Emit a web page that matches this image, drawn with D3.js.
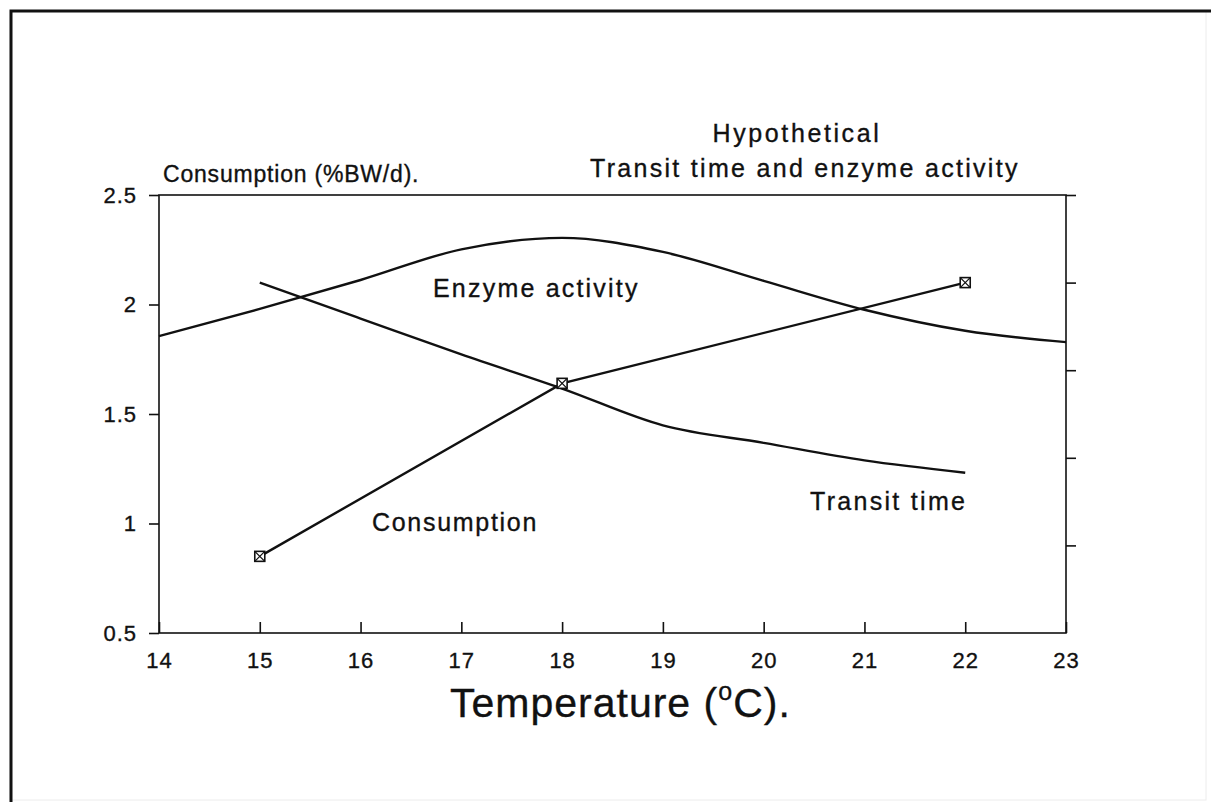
<!DOCTYPE html>
<html>
<head>
<meta charset="utf-8">
<script src="https://cdn.jsdelivr.net/npm/d3@7"></script>
<style>
  body { margin: 0; background: #fff; }
  text { font-family: "Liberation Sans", Arial, sans-serif; fill: #111; stroke: #111; stroke-width: 0.35px; }
</style>
</head>
<body>
<svg width="1211" height="802"></svg>
<script>
// measured consumption (left axis, %BW/d)
var consumptionTemp = [15, 18, 22];
var consumptionValues = [0.85, 1.64, 2.10];

// hypothetical curves (right axis, unlabelled units 0-5)
var enzymeTemp = [14, 15, 16, 17, 18, 19, 20, 21, 22, 23];
var enzymeValues = [3.39, 3.70, 4.03, 4.38, 4.51, 4.35, 4.02, 3.69, 3.45, 3.32];
var transitTemp = [15, 16, 17, 18, 19, 20, 21, 22];
var transitValues = [4.00, 3.59, 3.18, 2.79, 2.37, 2.17, 1.97, 1.83];

var xTicks = [14, 15, 16, 17, 18, 19, 20, 21, 22, 23];
var yTicks = [0.5, 1, 1.5, 2, 2.5];
var yTickLabels = ['0.5', '1', '1.5', '2', '2.5'];
var rightTicks = [1, 2, 3, 4, 5];

var svg = d3.select('svg');

// outer frame
svg.append('rect')
  .attr('x', 10).attr('y', 11).attr('width', 1196).attr('height', 789)
  .attr('fill', 'none').attr('stroke', '#ececec').attr('stroke-width', 1);
svg.append('path')
  .attr('d', 'M11,802V11H1211')
  .attr('fill', 'none').attr('stroke', '#111').attr('stroke-width', 3);

var x = d3.scaleLinear().domain([14, 23]).range([159, 1066]);
var y = d3.scaleLinear().domain([0.5, 2.5]).range([633, 195]);
var yR = d3.scaleLinear().domain([0, 5]).range([633, 195]);

var g = svg.append('g');

// plot box
g.append('rect')
  .attr('x', x(14)).attr('y', y(2.5))
  .attr('width', x(23) - x(14)).attr('height', y(0.5) - y(2.5))
  .attr('fill', 'none').attr('stroke', '#111').attr('stroke-width', 1.6);

var leftAxis = d3.axisLeft(y).tickValues(yTicks)
  .tickFormat(function (d, i) { return yTickLabels[i]; })
  .tickSize(10).tickSizeOuter(0).tickPadding(12);
var bottomAxis = d3.axisBottom(x).tickValues(xTicks)
  .tickSize(-11).tickSizeOuter(0).tickPadding(19);
var rightAxis = d3.axisRight(yR).tickValues(rightTicks)
  .tickFormat('').tickSize(10).tickSizeOuter(0);

function styleAxis(sel) {
  sel.attr('font-size', null).attr('font-family', null);
  sel.select('.domain').remove();
  sel.selectAll('line').attr('stroke', '#111').attr('stroke-width', 1.6);
  sel.selectAll('text').attr('fill', '#111')
    .style('font-size', '22px').style('letter-spacing', '1px');
}

g.append('g').attr('transform', 'translate(' + x(14) + ',0)').call(leftAxis).call(styleAxis);
g.append('g').attr('transform', 'translate(0,' + y(0.5) + ')').call(bottomAxis).call(styleAxis);
g.append('g').attr('transform', 'translate(' + x(23) + ',0)').call(rightAxis).call(styleAxis);

// curves
var lineR = d3.line()
  .x(function (d) { return x(d[0]); })
  .y(function (d) { return yR(d[1]); })
  .curve(d3.curveMonotoneX);
var lineL = d3.line()
  .x(function (d) { return x(d[0]); })
  .y(function (d) { return y(d[1]); });

var enzyme = d3.zip(enzymeTemp, enzymeValues);
var transit = d3.zip(transitTemp, transitValues);
var consumption = d3.zip(consumptionTemp, consumptionValues);

g.append('path').datum(enzyme).attr('d', lineR)
  .attr('fill', 'none').attr('stroke', '#111').attr('stroke-width', 2.4);
g.append('path').datum(transit).attr('d', lineR)
  .attr('fill', 'none').attr('stroke', '#111').attr('stroke-width', 2.4);
g.append('path').datum(consumption).attr('d', lineL)
  .attr('fill', 'none').attr('stroke', '#111').attr('stroke-width', 2.4);

// crossed-box markers
var m = g.selectAll('.marker').data(consumption).enter().append('g')
  .attr('class', 'marker')
  .attr('transform', function (d) { return 'translate(' + x(d[0]) + ',' + y(d[1]) + ')'; });
m.append('rect').attr('x', -5).attr('y', -5).attr('width', 10).attr('height', 10)
  .attr('fill', '#fff').attr('stroke', '#111').attr('stroke-width', 1.6);
m.append('path').attr('d', 'M-5,-5L5,5M-5,5L5,-5')
  .attr('stroke', '#111').attr('stroke-width', 1.3);

// labels
function label(txt, px, py, size, spacing, anchor) {
  return svg.append('text').attr('x', px).attr('y', py)
    .style('font-size', size + 'px').style('letter-spacing', spacing + 'px')
    .attr('text-anchor', anchor || 'start').text(txt);
}
label('Consumption (%BW/d).', 163, 182, 23, 0.8);
label('Hypothetical', 797, 142, 25, 2.6, 'middle');
label('Transit time and enzyme activity', 590, 177, 25, 2.3);
label('Enzyme activity', 433, 297, 25, 2.2);
label('Consumption', 372, 531, 25, 1.7);
label('Transit time', 810, 510, 25, 2.3);

var title = svg.append('text').attr('x', 450).attr('y', 717)
  .style('font-size', '41px').style('letter-spacing', '1px');
title.append('tspan').text('Temperature (');
title.append('tspan').style('font-size', '25px').attr('dy', -17).text('o');
title.append('tspan').attr('dy', 17).text('C).');
</script>
</body>
</html>
